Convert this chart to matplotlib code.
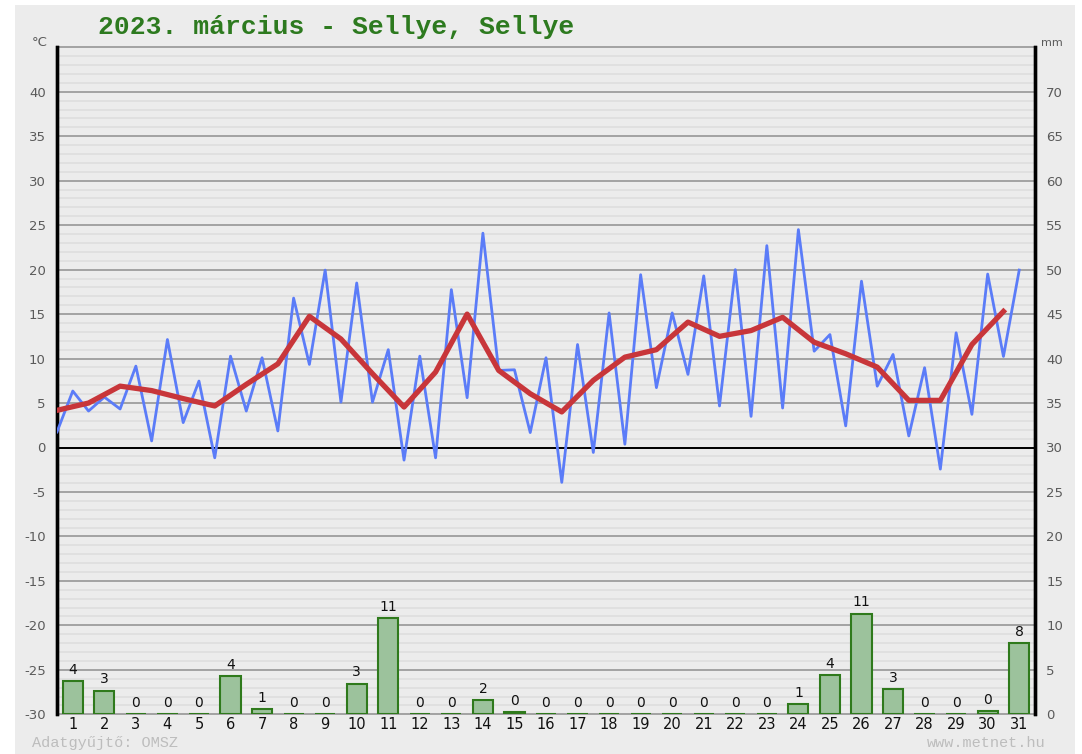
import matplotlib
matplotlib.use("Agg")
import matplotlib.pyplot as plt
from matplotlib.patches import Rectangle
from matplotlib.ticker import MultipleLocator
import numpy as np

days = list(range(1, 32))
t_min = [1.75, 4.1, 4.33, 0.74, 2.8, -1.16, 4.1, 1.86, 9.34, 5.1,
         5.1, -1.42, -1.16, 5.6, 8.67, 1.68, -3.92, -0.56, 0.37, 6.73,
         8.22, 4.67, 3.5, 4.44, 10.83, 2.43, 6.9, 1.3, -2.43, 3.73, 10.24]
t_max = [6.35, 5.67, 9.15, 12.14, 7.47, 10.27, 10.09, 16.8, 19.95, 18.5,
         11.0, 10.27, 17.75, 24.1, 8.74, 10.09, 11.58, 15.13, 19.43, 15.13,
         19.3, 20.0, 22.7, 24.5, 12.7, 18.7, 10.46, 8.97, 12.9, 19.5, 19.95]
t_mean = [4.18, 5.0, 6.9, 6.4, 5.5, 4.67, 7.1, 9.4, 14.75, 12.2,
          8.3, 4.55, 8.48, 15.0, 8.67, 6.05, 4.0, 7.55, 10.16, 11.0,
          14.1, 12.5, 13.15, 14.64, 11.84, 10.54, 9.04, 5.3, 5.3, 11.58, 15.3]
precip = [3.78, 2.67, 0, 0, 0, 4.29, 0.62, 0, 0, 3.45,
          10.8, 0, 0, 1.56, 0.26, 0, 0, 0, 0, 0,
          0, 0, 0, 1.14, 4.45, 11.33, 2.84, 0, 0, 0.4, 8.03]
precip_labels = ["4", "3", "0", "0", "0", "4", "1", "0", "0", "3",
                 "11", "0", "0", "2", "0", "0", "0", "0", "0", "0",
                 "0", "0", "0", "1", "4", "11", "3", "0", "0", "0", "8"]
temp_ticks = list(range(-30, 45, 5))
mm_ticks = list(range(0, 75, 5))
title = "2023. március - Sellye, Sellye"

W, H = 1082, 754
fig = plt.figure(figsize=(W / 100, H / 100), dpi=100, facecolor="white")
panel = "#ececec"
fig.patches.append(Rectangle((15 / W, 0), (1075 - 15) / W, (H - 5) / H,
                             transform=fig.transFigure, facecolor=panel,
                             edgecolor="none", zorder=0))

left, right = 57 / W, 1035 / W
bottom, top = 1 - 714.3 / H, 1 - 47.3 / H
ax2 = fig.add_axes([left, bottom, right - left, top - bottom])
ax = ax2.twinx()
ax2.set_zorder(1)
ax.set_zorder(2)
ax.patch.set_visible(False)
ax2.patch.set_facecolor(panel)

# precipitation axis (behind)
ax2.set_xlim(0.5, 31.5)
ax2.set_ylim(0, 75)
ax2.yaxis.set_major_locator(MultipleLocator(5))
ax2.yaxis.set_minor_locator(MultipleLocator(1))
ax2.grid(which="minor", axis="y", color="#e0e0e0", lw=1.4)
ax2.grid(which="major", axis="y", color="#a3a3a3", lw=1.4)
ax2.set_axisbelow(True)
ax2.bar(days, precip, width=0.64, color="#9cc29c", edgecolor="#2f7a1c",
        linewidth=1.5, zorder=3)
for d, p, lab in zip(days, precip, precip_labels):
    ax2.annotate(lab, (d, p), xytext=(0, 3), textcoords="offset points",
                 ha="center", va="bottom", fontsize=10, color="#111111",
                 zorder=4)

# temperature axis (front)
ax.set_ylim(-30, 45)
x_half = np.arange(0.5, 31.5, 1.0)
blue_x = np.ravel(np.column_stack([x_half, np.array(days, dtype=float)]))
blue_y = np.ravel(np.column_stack([t_min, t_max]))
ax.axhline(0, color="black", lw=1.4, zorder=2)
ax.plot(blue_x, blue_y, color="#5b7cf8", lw=2.0, zorder=3)
ax.plot(x_half, t_mean, color="#c8363a", lw=3.8, zorder=4)

# ticks: temperature on the left, mm on the right
ax.yaxis.tick_left()
ax2.yaxis.tick_right()
ax.set_yticks(temp_ticks)
ax.set_yticklabels([str(t) for t in temp_ticks])
ax2.set_yticks(mm_ticks)
ax2.set_yticklabels([str(m) for m in mm_ticks])
ax.tick_params(axis="y", length=0, pad=8, labelsize=9.5, labelcolor="#5a5a5a")
ax2.tick_params(axis="y", which="both", length=0, pad=8, labelsize=9.5,
                labelcolor="#5a5a5a")
ax2.set_xticks(days)
ax2.set_xticklabels([str(d) for d in days])
ax2.tick_params(axis="x", length=0, pad=2, labelsize=10.5, labelcolor="#111111")
ax.tick_params(axis="x", length=0)

for s in ("top", "bottom"):
    ax2.spines[s].set_color("#a3a3a3")
    ax2.spines[s].set_linewidth(1.4)
    ax2.spines[s].set_zorder(2)
    ax.spines[s].set_visible(False)
for a in (ax, ax2):
    a.spines["left"].set_color("black")
    a.spines["left"].set_linewidth(2.4)
    a.spines["right"].set_color("black")
    a.spines["right"].set_linewidth(2.4)

fig.text(98 / W, 1 - 27 / H, title, fontsize=19, fontweight="bold",
         family="Liberation Mono", color="#2d7a1f", ha="left", va="center")
fig.text(48 / W, 1 - 42 / H, "°C", fontsize=9.5, color="#5a5a5a",
         ha="right", va="center")
fig.text(1041 / W, 1 - 43 / H, "mm", fontsize=8, color="#5a5a5a",
         ha="left", va="center")
fig.text(32 / W, 1 - 743 / H, "Adatgyűjtő: OMSZ", fontsize=11,
         family="Liberation Mono", color="#bdbdbd", ha="left", va="center")
fig.text(1046 / W, 1 - 743 / H, "www.metnet.hu", fontsize=11,
         family="Liberation Mono", color="#bdbdbd", ha="right", va="center")

fig.savefig("out.png", dpi=100, facecolor="white")
